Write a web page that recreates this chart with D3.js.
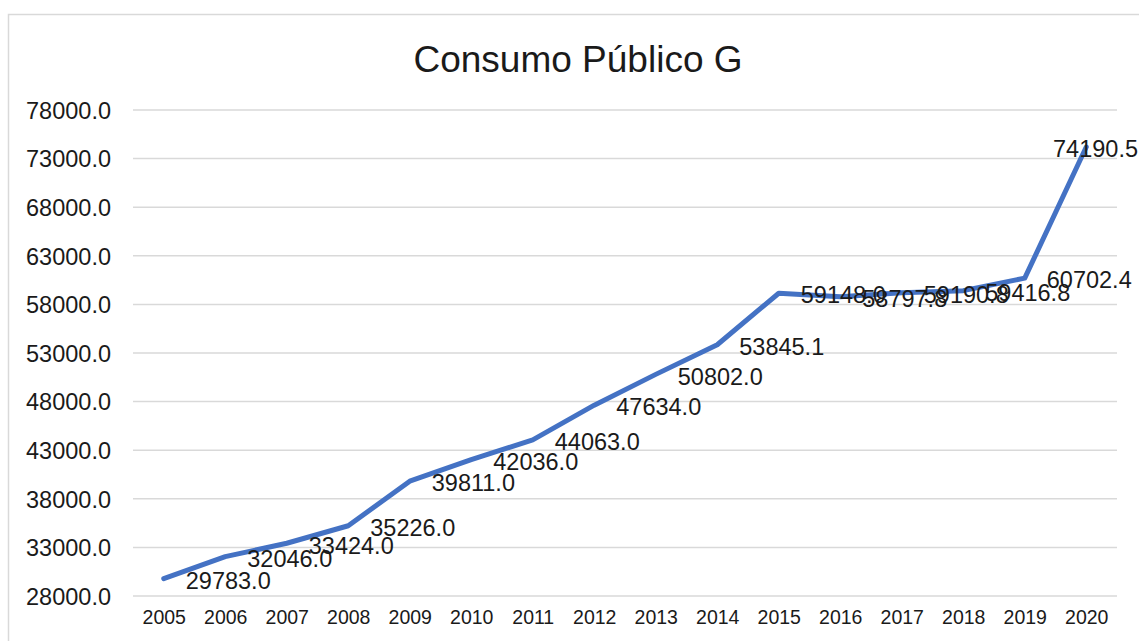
<!DOCTYPE html>
<html>
<head>
<meta charset="utf-8">
<script src="https://cdn.jsdelivr.net/npm/d3@7"></script>
<style>
  html, body { margin: 0; padding: 0; background: #ffffff; }
  svg { display: block; font-family: "Liberation Sans", Arial, sans-serif; }
</style>
</head>
<body>
<svg id="chart" width="1139" height="641"></svg>
<script>
// Public consumption (G) by year
const years = ["2005","2006","2007","2008","2009","2010","2011","2012","2013","2014","2015","2016","2017","2018","2019","2020"];
const consumo = [29783.0, 32046.0, 33424.0, 35226.0, 39811.0, 42036.0, 44063.0, 47634.0, 50802.0, 53845.1, 59148.0, 58797.8, 59190.8, 59416.8, 60702.4, 74190.5];
const yTicks = [28000, 33000, 38000, 43000, 48000, 53000, 58000, 63000, 68000, 73000, 78000];
const title = "Consumo Público G";

const W = 1139, H = 641;
const plot = { left: 133, right: 1117, top: 110, bottom: 596 };

const svg = d3.select("#chart");

// chart frame
svg.append("rect")
  .attr("x", 8.5).attr("y", 14.5)
  .attr("width", 1140).attr("height", 700)
  .attr("fill", "#ffffff")
  .attr("stroke", "#d9d9d9").attr("stroke-width", 1.5);

const x = d3.scalePoint().domain(years).range([plot.left, plot.right]).padding(0.5);
const y = d3.scaleLinear().domain([28000, 78000]).range([plot.bottom, plot.top]);

// horizontal gridlines
svg.append("g")
  .selectAll("line")
  .data(yTicks)
  .join("line")
  .attr("x1", plot.left).attr("x2", plot.right)
  .attr("y1", d => y(d)).attr("y2", d => y(d))
  .attr("stroke", "#d9d9d9").attr("stroke-width", 1.5);

// y axis labels
const yAxis = d3.axisLeft(y).tickValues(yTicks).tickFormat(d3.format(".1f")).tickSize(0).tickPadding(22);
svg.append("g")
  .attr("transform", `translate(${plot.left},0)`)
  .call(yAxis)
  .call(g => g.select(".domain").remove())
  .call(g => g.selectAll("text")
    .attr("font-size", "23.5px")
    .attr("font-family", "Liberation Sans, Arial, sans-serif")
    .attr("fill", "#1a1a1a")
    .attr("dy", "0.35em"));

// x axis labels
const xAxis = d3.axisBottom(x).tickSize(0).tickPadding(14);
svg.append("g")
  .attr("transform", `translate(0,${plot.bottom})`)
  .call(xAxis)
  .call(g => g.select(".domain").remove())
  .call(g => g.selectAll("text")
    .attr("font-size", "19.5px")
    .attr("font-family", "Liberation Sans, Arial, sans-serif")
    .attr("fill", "#1a1a1a"));

// title
svg.append("text")
  .attr("x", 578).attr("y", 72)
  .attr("text-anchor", "middle")
  .attr("font-size", "37px")
  .attr("fill", "#1a1a1a")
  .text(title);

// series line
const line = d3.line()
  .x((d, i) => x(years[i]))
  .y(d => y(d));

svg.append("path")
  .datum(consumo)
  .attr("d", line)
  .attr("fill", "none")
  .attr("stroke", "#4472C4")
  .attr("stroke-width", 5)
  .attr("stroke-linejoin", "round")
  .attr("stroke-linecap", "round");

// data labels, placed to the right of each point and kept inside the frame
const fmt = d3.format(".1f");
const labels = svg.append("g")
  .selectAll("text")
  .data(consumo)
  .join("text")
  .attr("font-size", "23.5px")
  .attr("fill", "#1a1a1a")
  .attr("dy", "0.35em")
  .attr("y", d => y(d) + 2)
  .attr("x", (d, i) => x(years[i]) + 22)
  .text(d => fmt(d));

labels.each(function () {
  const bb = this.getBBox();
  const maxRight = W - 1;
  if (bb.x + bb.width > maxRight) {
    d3.select(this).attr("x", maxRight - bb.width);
  }
});
</script>
</body>
</html>
